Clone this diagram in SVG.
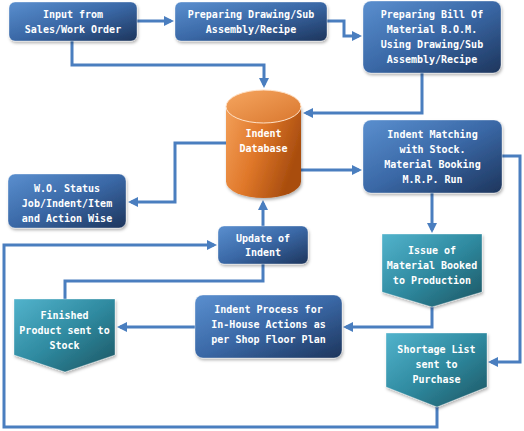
<svg xmlns="http://www.w3.org/2000/svg" width="524" height="431" viewBox="0 0 524 431">
<defs>
<linearGradient id="gBlue" x1="0" y1="0" x2="1" y2="1">
<stop offset="0" stop-color="#5a8fcf"/>
<stop offset="0.5" stop-color="#3a68a6"/>
<stop offset="1" stop-color="#1d355c"/>
</linearGradient>
<linearGradient id="gTeal" x1="0" y1="0" x2="1" y2="1">
<stop offset="0" stop-color="#52b3cc"/>
<stop offset="0.5" stop-color="#2f8aa0"/>
<stop offset="1" stop-color="#1c5461"/>
</linearGradient>
<linearGradient id="gOrange" x1="0" y1="0" x2="1" y2="0.4">
<stop offset="0" stop-color="#f3a05a"/>
<stop offset="0.5" stop-color="#e0782a"/>
<stop offset="1" stop-color="#a94d0e"/>
</linearGradient>
<linearGradient id="gOrangeTop" x1="0" y1="0" x2="1" y2="1">
<stop offset="0" stop-color="#f6a660"/>
<stop offset="1" stop-color="#d9772e"/>
</linearGradient>
<filter id="sh" x="-10%" y="-10%" width="125%" height="130%">
<feDropShadow dx="1" dy="2" stdDeviation="1.5" flood-color="#000" flood-opacity="0.3"/>
</filter>
<marker id="ah" viewBox="0 0 10 10" refX="7" refY="5" markerWidth="10" markerHeight="10" markerUnits="userSpaceOnUse" orient="auto">
<path d="M0,0 L10,5 L0,10 z" fill="#4a7ebf"/>
</marker>
</defs>
<style>
.box{fill:url(#gBlue);stroke:#ffffff;stroke-opacity:0.35;stroke-width:1;filter:url(#sh)}
.pent{fill:url(#gTeal);stroke:#ffffff;stroke-opacity:0.35;stroke-width:1;filter:url(#sh)}
.t{font-family:"DejaVu Sans Mono","Liberation Mono",monospace;font-size:10px;font-weight:bold;fill:#ffffff;text-anchor:middle}
.c{fill:none;stroke:#4a7ebf;stroke-width:3}
.a{marker-end:url(#ah)}
</style>
<rect width="524" height="431" fill="#ffffff"/>
<g id="connectors">
<path class="c a" d="M137,21 H171"/>
<path class="c a" d="M327,21 H344 V36 H359"/>
<path class="c a" d="M422,73 V113 H306"/>
<path class="c a" d="M72,41 V65 H264 V85"/>
<path class="c a" d="M301,170 H359"/>
<path class="c a" d="M226,143 H175 V202 H131"/>
<path class="c a" d="M263,226 V203"/>
<path class="c a" d="M502,156 H520 V362 H491"/>
<path class="c a" d="M432,193 V230"/>
<path class="c a" d="M432,307 V327 H346"/>
<path class="c a" d="M195,327 H120"/>
<path class="c a" d="M437,407 V427 H4 V245 H214"/>
<path class="c" d="M263,264 V281 H65 V299"/>
</g>
<g id="input-sales">
<rect class="box" x="9" y="2" width="128" height="39" rx="6"/>
<text class="t" x="73" y="17.5">Input from</text>
<text class="t" x="73" y="32.5">Sales/Work Order</text>
</g>
<g id="preparing-drawing">
<rect class="box" x="175" y="2" width="152" height="39" rx="6"/>
<text class="t" x="251" y="17.5">Preparing Drawing/Sub</text>
<text class="t" x="251" y="32.5">Assembly/Recipe</text>
</g>
<g id="preparing-bom">
<rect class="box" x="363" y="1" width="138" height="72" rx="8"/>
<text class="t" x="432" y="17.5">Preparing Bill Of</text>
<text class="t" x="432" y="32.5">Material B.O.M.</text>
<text class="t" x="432" y="47.5">Using Drawing/Sub</text>
<text class="t" x="432" y="62.5">Assembly/Recipe</text>
</g>
<g id="indent-database">
<path d="M226,106.5 V181.5 A37.5,16.5 0 0 0 301,181.5 V106.5 Z" fill="url(#gOrange)" filter="url(#sh)"/>
<ellipse cx="263.5" cy="106.5" rx="37.5" ry="16.5" fill="url(#gOrangeTop)" stroke="#ffe2c8" stroke-width="1"/>
<text class="t" x="263.5" y="136.5">Indent</text>
<text class="t" x="263.5" y="151.5">Database</text>
</g>
<g id="indent-matching">
<rect class="box" x="363" y="120" width="139" height="73" rx="8"/>
<text class="t" x="432.5" y="137.5">Indent Matching</text>
<text class="t" x="432.5" y="152.5">with Stock.</text>
<text class="t" x="432.5" y="167.5">Material Booking</text>
<text class="t" x="432.5" y="182.5">M.R.P. Run</text>
</g>
<g id="wo-status">
<rect class="box" x="8" y="174" width="118" height="54" rx="7"/>
<text class="t" x="67" y="191.5">W.O. Status</text>
<text class="t" x="67" y="206.5">Job/Indent/Item</text>
<text class="t" x="67" y="221.5">and Action Wise</text>
</g>
<g id="update-indent">
<rect class="box" x="218" y="226" width="90" height="38" rx="6"/>
<text class="t" x="263" y="241.5">Update of</text>
<text class="t" x="263" y="255.5">Indent</text>
</g>
<g id="issue-material">
<polygon class="pent" points="382,234 482,234 482,292 432,307 382,292"/>
<text class="t" x="432" y="253.5">Issue of</text>
<text class="t" x="432" y="268.5">Material Booked</text>
<text class="t" x="432" y="283.5">to Production</text>
</g>
<g id="shortage-list">
<polygon class="pent" points="386,333 487,333 487,387 437,407 386,387"/>
<text class="t" x="436.5" y="352.5">Shortage List</text>
<text class="t" x="436.5" y="367.5">sent to</text>
<text class="t" x="436.5" y="382.5">Purchase</text>
</g>
<g id="indent-process">
<rect class="box" x="195" y="295" width="147" height="63" rx="8"/>
<text class="t" x="268.5" y="312.5">Indent Process for</text>
<text class="t" x="268.5" y="327.5">In-House Actions as</text>
<text class="t" x="268.5" y="342.5">per Shop Floor Plan</text>
</g>
<g id="finished-product">
<polygon class="pent" points="14,299 115,299 115,355 65,372 14,355"/>
<text class="t" x="64.5" y="318.5">Finished</text>
<text class="t" x="64.5" y="333.5">Product sent to</text>
<text class="t" x="64.5" y="348.5">Stock</text>
</g>
</svg>
